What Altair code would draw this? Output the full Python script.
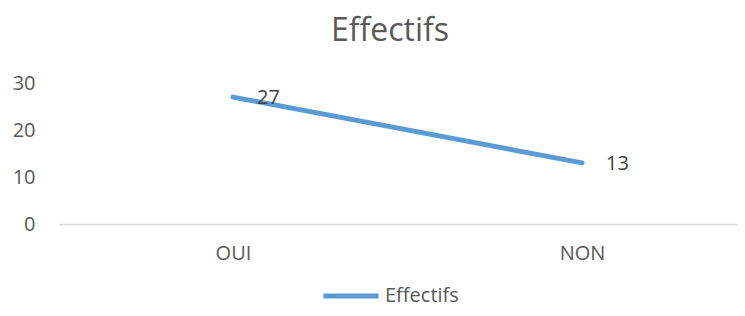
import altair as alt
import pandas as pd

categories = ["OUI", "NON"]
values = [27, 13]
series = "Effectifs"

df = pd.DataFrame({"cat": categories, "val": values, "series": [series] * len(values)})

FONT = "Open Sans"
GREY = "#595959"

x = alt.X("cat:N", sort=categories, title=None,
          scale=alt.Scale(type="point", padding=0.471, align=0.529),
          axis=alt.Axis(labelAngle=0, labelFontSize=20, labelColor=GREY, labelFont=FONT,
                        ticks=False, domainColor="#d9d9d9", domainWidth=1.5,
                        labelPadding=19, grid=False))
y = alt.Y("val:Q", title=None,
          scale=alt.Scale(domain=[0, 30]),
          axis=alt.Axis(values=[0, 10, 20, 30], labelFontSize=20, labelColor=GREY, labelFont=FONT,
                        ticks=False, domain=False, grid=False, labelPadding=24))

line = alt.Chart(df).mark_line(strokeWidth=5, strokeCap="round", strokeJoin="round").encode(
    x=x, y=y,
    color=alt.Color("series:N", scale=alt.Scale(range=["#5b9bd5"]),
                    legend=alt.Legend(title=None, orient="none", legendX=262, legendY=183,
                                      symbolType="stroke", symbolSize=3025, symbolStrokeWidth=5,
                                      labelFontSize=20, labelColor=GREY, labelFont=FONT,
                                      labelOffset=4))
)

labels = alt.Chart(df).mark_text(align="left", baseline="middle", dx=24, dy=1,
                                 fontSize=20, font=FONT, color="#404040").encode(
    x=alt.X("cat:N", sort=categories), y="val:Q", text="val:Q"
)

chart = (line + labels).properties(
    width=678, height=141,
    autosize=alt.AutoSizeParams(type="none"),
    padding={"left": 51, "top": 75, "right": 0, "bottom": 84},
    title=alt.TitleParams("Effectifs", fontSize=32, font=FONT, fontWeight="normal",
                          color=GREY, offset=25, dx=-8, anchor="middle"),
).configure_view(stroke=None)

chart.save("out.html", embed_options={"renderer": "svg", "actions": False})
